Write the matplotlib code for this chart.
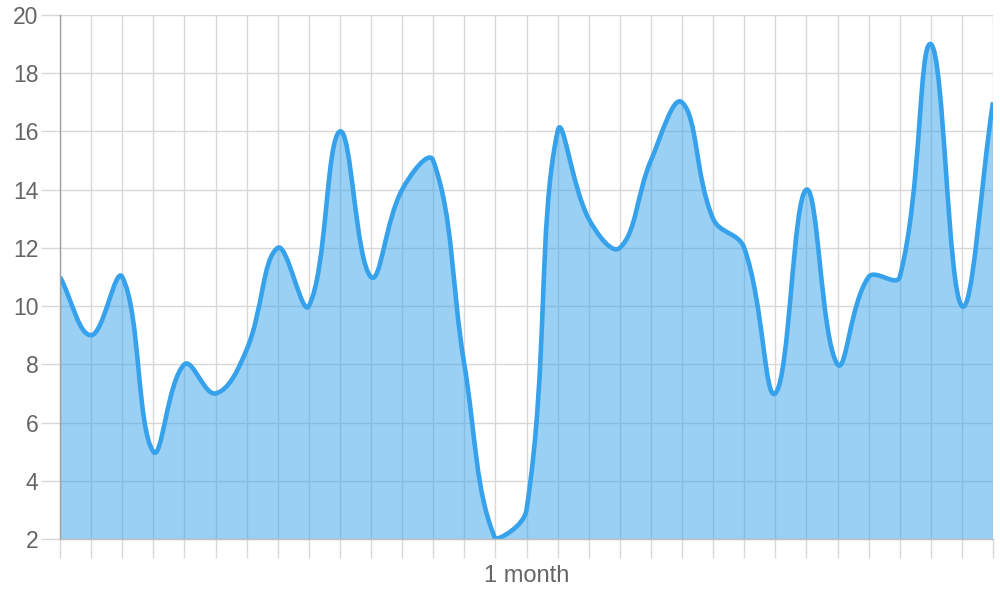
# Smooth filled line chart, one value per day over a month.

import numpy as np
import matplotlib
matplotlib.use('Agg')
import matplotlib.pyplot as plt
from matplotlib.path import Path
from matplotlib.patches import PathPatch

values = [11, 9, 11, 5, 8, 7, 8.5, 12, 10, 16, 11, 14, 15, 8, 2, 3,
          16, 13, 12, 15, 17, 13, 12, 7, 14, 8, 11, 11, 19, 10, 17]
x_labels = [''] * len(values)
x_labels[15] = '1 month'
y_ticks = [2, 4, 6, 8, 10, 12, 14, 16, 18, 20]

y_min, y_max = 2, 20
tension = 0.4

plt.rcParams['font.family'] = ['Liberation Sans', 'DejaVu Sans']

fig = plt.figure(figsize=(10, 6), dpi=100)
ax = fig.add_axes([0.06, 0.1017, 0.933, 0.8733])
n = len(values)
ax.set_xlim(0, n - 1)
ax.set_ylim(y_min, y_max)

# pixel size of one unit, so the spline looks like the canvas one
sx = 933.0 / (n - 1)
sy = 524.0 / (y_max - y_min)

xs = np.arange(n, dtype=float)
ys = np.array(values, dtype=float)

cp_prev = []
cp_next = []
for i in range(n):
  p = i - 1 if i > 0 else i
  q = i + 1 if i < n - 1 else i
  d01 = np.hypot((xs[i] - xs[p]) * sx, (ys[i] - ys[p]) * sy)
  d12 = np.hypot((xs[q] - xs[i]) * sx, (ys[q] - ys[i]) * sy)
  tot = d01 + d12
  s01 = d01 / tot if tot > 0 else 0
  s12 = d12 / tot if tot > 0 else 0
  fa = tension * s01
  fb = tension * s12
  a = (xs[i] - fa * (xs[q] - xs[p]), ys[i] - fa * (ys[q] - ys[p]))
  b = (xs[i] + fb * (xs[q] - xs[p]), ys[i] + fb * (ys[q] - ys[p]))
  a = (min(max(a[0], 0), n - 1), min(max(a[1], y_min), y_max))
  b = (min(max(b[0], 0), n - 1), min(max(b[1], y_min), y_max))
  cp_prev.append(a)
  cp_next.append(b)

verts = [(xs[0], ys[0])]
codes = [Path.MOVETO]
for i in range(n - 1):
  verts += [cp_next[i], cp_prev[i + 1], (xs[i + 1], ys[i + 1])]
  codes += [Path.CURVE4] * 3

line_path = Path(verts, codes)
fill_path = Path(verts + [(xs[-1], y_min), (xs[0], y_min), (xs[0], ys[0])],
                 codes + [Path.LINETO, Path.LINETO, Path.CLOSEPOLY])

ax.add_patch(PathPatch(fill_path, facecolor=(54/255, 162/255, 235/255, 0.5),
                       edgecolor='none', zorder=2))
ax.add_patch(PathPatch(line_path, facecolor='none', edgecolor='#36a2eb',
                       linewidth=3.3, capstyle='butt', joinstyle='round', zorder=3))

grid_color = '#d8d8d8'
ax.set_xticks(xs)
ax.set_xticklabels(x_labels)
ax.set_yticks(y_ticks)
ax.grid(True, color=grid_color, linewidth=1.0)
ax.set_axisbelow(True)
ax.tick_params(axis='x', length=13.5, width=1.0, color=grid_color, pad=5.5,
               labelsize=17, labelcolor='#666666')
ax.tick_params(axis='y', length=14.0, width=1.0, color=grid_color, pad=1.5,
               labelsize=16.5, labelcolor='#666666')

for s in ['top', 'right']:
  ax.spines[s].set_visible(False)
ax.spines['left'].set_color('#a0a0a0')
ax.spines['left'].set_linewidth(1.0)
ax.spines['bottom'].set_color('#c0c0c0')
ax.spines['bottom'].set_linewidth(1.0)
ax.spines['left'].set_zorder(4)
ax.spines['bottom'].set_zorder(4)

fig.savefig('out.png', dpi=100)
